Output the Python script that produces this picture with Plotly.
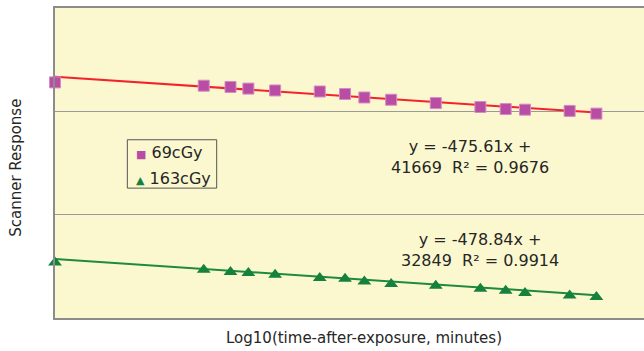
import plotly.graph_objects as go

# log10 of time after exposure (minutes)
log_time = [0.0, 1.0, 1.18, 1.30, 1.48, 1.78, 1.95, 2.08, 2.26, 2.56, 2.86, 3.03, 3.16, 3.46, 3.64]

resp_69 = [41400, 41240, 41180, 41100, 41010, 40960, 40840, 40670, 40560,
           40400, 40210, 40110, 40080, 40020, 39890]
resp_163 = [32680, 32340, 32230, 32180, 32090, 31940, 31900, 31770, 31640,
            31560, 31420, 31320, 31210, 31090, 31020]

series_names = ["69cGy", "163cGy"]
fit_slope = [-475.61, -478.84]
fit_intercept = [41669, 32849]
fit_r2 = [0.9676, 0.9914]

FONT = "DejaVu Sans"
TEXT = "#262626"
SQ_COLOR = "#B84DA3"
TRI_COLOR = "#15813C"

fig = go.Figure()

# trendlines from the fitted equations
x_fit = [log_time[0], log_time[-1]]
line_colors = ["#F5222D", "#1E8A3C"]
for m, b, c in zip(fit_slope, fit_intercept, line_colors):
    fig.add_trace(go.Scatter(x=x_fit, y=[b + m * x for x in x_fit], mode="lines",
                             line=dict(color=c, width=2), showlegend=False, hoverinfo="skip"))

fig.add_trace(go.Scatter(x=log_time, y=resp_69, mode="markers", name=series_names[0],
                         cliponaxis=False,
                         marker=dict(symbol="square", size=11, color=SQ_COLOR,
                                     line=dict(color="#D58BC6", width=1))))
fig.add_trace(go.Scatter(x=log_time, y=resp_163, mode="markers", name=series_names[1],
                         cliponaxis=False,
                         marker=dict(symbol="triangle-up", size=12, color=TRI_COLOR,
                                     line=dict(color=TRI_COLOR, width=0))))

# equation labels
eq_pos = [(0.705, 0.519), (0.722, 0.22)]
for m, b, r2, (ax, ay) in zip(fit_slope, fit_intercept, fit_r2, eq_pos):
    fig.add_annotation(x=ax, y=ay, xref="paper", yref="paper", showarrow=False,
                       xanchor="center", yanchor="middle",
                       text=f"y = {m}x +<br>{b}  R² = {r2}",
                       font=dict(family=FONT, size=16, color=TEXT), align="center")

# compact legend box
fig.add_shape(type="rect", xref="paper", yref="paper", x0=0.1228, x1=0.2745, y0=0.419, y1=0.575,
              line=dict(color="#555555", width=1), fillcolor="rgba(0,0,0,0)")
legend_rows = [(0.533, SQ_COLOR, "■"), (0.449, TRI_COLOR, "▲")]
for name, (ly, col, sym) in zip(series_names, legend_rows):
    fig.add_annotation(x=0.134, y=ly, xref="paper", yref="paper", showarrow=False, xanchor="left",
                       text=f"<span style='color:{col};font-size:11px'>{sym}</span> {name}",
                       font=dict(family=FONT, size=16, color=TEXT))

fig.add_annotation(x=0.524, y=-0.0635, xref="paper", yref="paper", showarrow=False,
                   xanchor="center", yanchor="middle", text="Log10(time-after-exposure, minutes)",
                   font=dict(family=FONT, size=15, color=TEXT))
fig.add_annotation(x=-0.066, y=0.485, xref="paper", yref="paper", showarrow=False,
                   xanchor="center", yanchor="middle",
                   textangle=-90, text="Scanner Response",
                   font=dict(family=FONT, size=15, color=TEXT))

fig.update_layout(
    width=644, height=351,
    margin=dict(l=55, r=0, t=8, b=33),
    paper_bgcolor="white",
    plot_bgcolor="#FBF8CF",
    showlegend=False,
    font=dict(family=FONT, size=15, color=TEXT),
    xaxis=dict(range=[0, 3.96], showgrid=False, zeroline=False, showticklabels=False,
               ticks="", showline=True, linecolor="#8C8C8C", linewidth=2, mirror=True),
    yaxis=dict(range=[30000, 45000], dtick=5000, showgrid=True, gridcolor="#9A9A9A",
               gridwidth=1, zeroline=False, showticklabels=False, ticks="",
               showline=True, linecolor="#8C8C8C", linewidth=2),
)

fig.write_html("out.html", config={"displayModeBar": False},
               post_script="document.body.style.margin='0';")
